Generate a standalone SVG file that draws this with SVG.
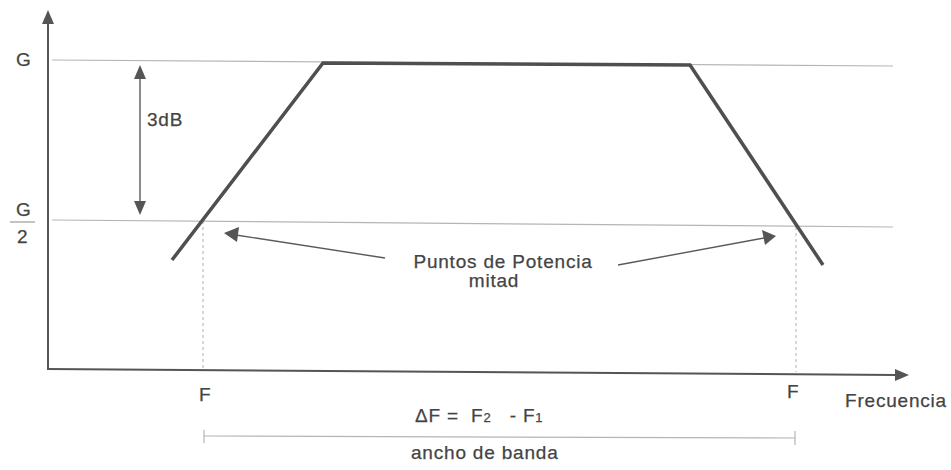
<svg xmlns="http://www.w3.org/2000/svg" width="951" height="470" viewBox="0 0 951 470">
<style>
  text { font-family: "Liberation Sans", Arial, sans-serif; fill: #444; font-size: 19px; letter-spacing: 0.8px; stroke: #444; stroke-width: 0.25; }
  .guide { stroke: #b5b5b5; stroke-width: 1.2; fill: none; }
  .dash { stroke: #b0b0b0; stroke-width: 1; stroke-dasharray: 3 3; fill: none; }
  .axis { stroke: #555; stroke-width: 2; fill: none; }
  .curve { stroke: #4f4f4f; stroke-width: 3.5; fill: none; stroke-linejoin: miter; }
  .arr { stroke: #5a5a5a; stroke-width: 1.4; fill: none; }
  .head { fill: #555; }
</style>
<rect width="951" height="470" fill="#ffffff"/>

<g id="guides">
  <line class="guide" x1="52" y1="60" x2="893" y2="66"/>
  <line class="guide" x1="52" y1="220" x2="893" y2="227"/>
  <line class="dash" x1="203" y1="221" x2="203" y2="369"/>
  <line class="dash" x1="796" y1="227" x2="796" y2="372"/>
</g>

<g id="axes">
  <line class="axis" x1="48" y1="22" x2="48" y2="369"/>
  <polygon class="head" points="48,10 42,24 54,24"/>
  <line class="axis" x1="47" y1="369" x2="896" y2="375"/>
  <polygon class="head" points="909,375 895,369 895,381"/>
</g>

<g id="curve">
  <polyline class="curve" points="172,260 323,63 690,65 823,265"/>
</g>

<g id="connectors">
  <line class="arr" x1="140" y1="76" x2="140" y2="204"/>
  <polygon class="head" points="140,65 134,79 146,79"/>
  <polygon class="head" points="140,215 134,201 146,201"/>
  <line class="arr" x1="385" y1="258" x2="236" y2="235"/>
  <polygon class="head" points="224,233 239,227 237,242"/>
  <line class="arr" x1="618" y1="265" x2="764" y2="238"/>
  <polygon class="head" points="776,236 762,230 765,245"/>
  <line class="guide" x1="204" y1="436" x2="795" y2="438"/>
  <line class="guide" x1="204" y1="430" x2="204" y2="443"/>
  <line class="guide" x1="795" y1="431" x2="795" y2="445"/>
</g>

<g id="labels">
  <text x="16" y="66" font-size="20">G</text>
  <text x="16" y="216" font-size="20">G</text>
  <line x1="10" y1="222" x2="35" y2="222" stroke="#888" stroke-width="1"/>
  <text x="17" y="243" font-size="20">2</text>
  <text x="147" y="126">3dB</text>
  <text x="503" y="268" text-anchor="middle">Puntos de Potencia</text>
  <text x="494" y="287" text-anchor="middle">mitad</text>
  <text x="199" y="401">F</text>
  <text x="787" y="398">F</text>
  <text x="845" y="407">Frecuencia</text>
  <text x="415" y="422" xml:space="preserve">ΔF =  F<tspan font-size="13">2</tspan>   - F<tspan font-size="13">1</tspan></text>
  <text x="411" y="459" font-size="20">ancho de banda</text>
</g>
</svg>
